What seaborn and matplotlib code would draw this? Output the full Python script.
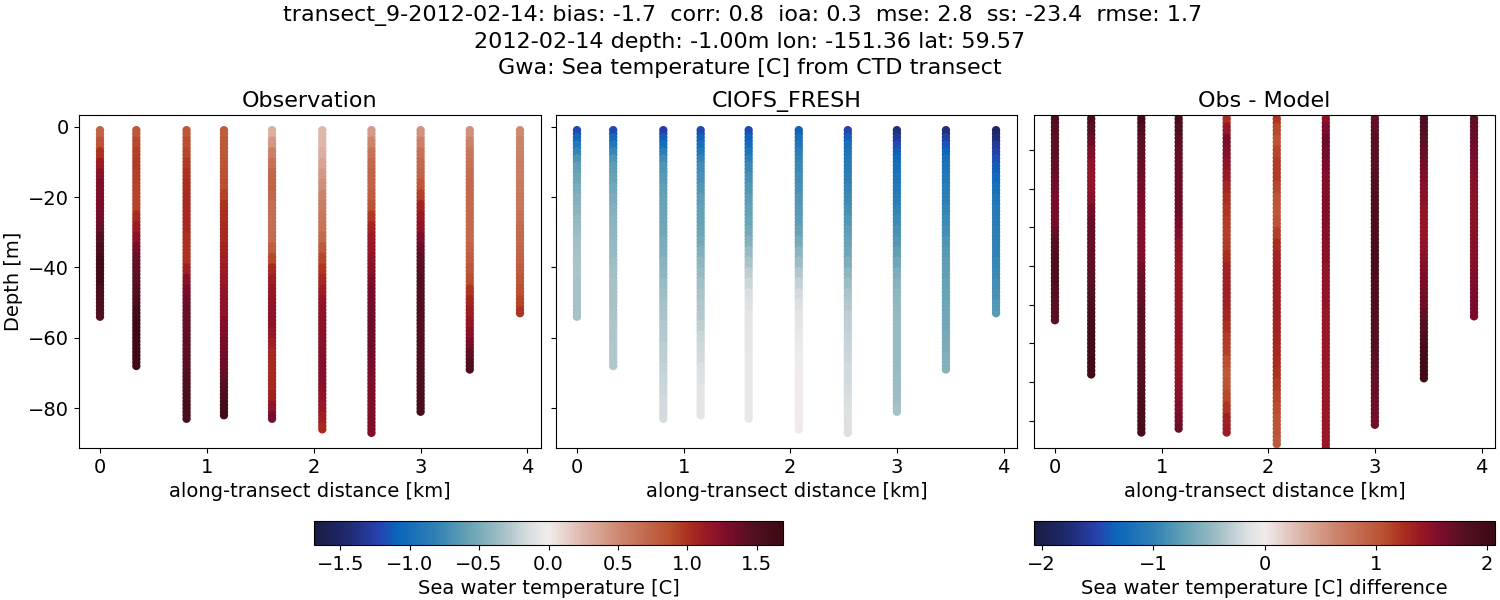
import numpy as np
import pandas as pd
import matplotlib
matplotlib.use('Agg')
import matplotlib.pyplot as plt
from matplotlib.cm import ScalarMappable
from matplotlib.colors import LinearSegmentedColormap, Normalize
import seaborn as sns

# along-transect position of each CTD cast [km] and its deepest sample [m]
distance_km = [0.0, 0.34, 0.81, 1.16, 1.61, 2.08, 2.54, 3.0, 3.46, 3.93]
bottom_m = [54, 68, 83, 82, 83, 86, 87, 81, 69, 53]

# values, one reading per 3 m layer
obs_layers = [
    [.75, .85, 1.0, 1.13, 1.22, 1.27, 1.28, 1.3, 1.32, 1.38, 1.47, 1.54, 1.6, 1.62, 1.62, 1.57, 1.53, 1.5],
    [.82, .9, .95, .96, .95, .93, .92, .93, 1.03, 1.13, 1.22, 1.31, 1.38, 1.41, 1.43, 1.48, 1.54, 1.6, 1.64, 1.66, 1.65, 1.64, 1.62],
    [.83, .88, .92, .97, 1.0, 1.02, 1.03, 1.05, 1.05, 1.04, 1.01, 1.0, 1.0, 1.1, 1.23, 1.3, 1.35, 1.38, 1.39, 1.4, 1.42, 1.43, 1.45, 1.48, 1.52, 1.57, 1.58, 1.55],
    [.79, .81, .82, .84, .86, .88, .93, 1.0, 1.01, 1.03, 1.05, 1.08, 1.1, 1.13, 1.16, 1.18, 1.19, 1.2, 1.25, 1.28, 1.3, 1.31, 1.35, 1.39, 1.46, 1.52, 1.58, 1.62],
    [.28, .42, .55, .66, .73, .75, .72, .68, .68, .68, .69, .78, .9, 1.03, 1.12, 1.15, 1.18, 1.2, 1.2, 1.16, 1.1, 1.05, 1.03, 1.03, 1.05, 1.1, 1.2, 1.32],
    [.24, .26, .3, .35, .42, .47, .53, .58, .61, .64, .7, .8, .9, .98, 1.05, 1.12, 1.18, 1.21, 1.22, 1.22, 1.23, 1.25, 1.25, 1.25, 1.23, 1.2, 1.15, 1.1, 1.05],
    [.4, .52, .64, .7, .73, .75, .78, .85, .97, 1.08, 1.13, 1.16, 1.2, 1.23, 1.27, 1.3, 1.32, 1.33, 1.35, 1.35, 1.35, 1.34, 1.31, 1.28, 1.27, 1.27, 1.27, 1.27, 1.27],
    [.46, .56, .65, .7, .75, .83, .95, 1.07, 1.14, 1.2, 1.28, 1.38, 1.43, 1.46, 1.48, 1.48, 1.48, 1.48, 1.47, 1.47, 1.48, 1.48, 1.5, 1.5, 1.52, 1.54, 1.56],
    [.47, .55, .62, .66, .68, .7, .7, .7, .7, .7, .71, .74, .78, .82, .88, .98, 1.06, 1.12, 1.17, 1.22, 1.3, 1.42, 1.52],
    [.5, .53, .55, .57, .58, .6, .61, .63, .66, .69, .7, .73, .76, .79, .82, .86, .92, .98],
]

# model changes fast near the surface, so five 2 m layers first and then 3 m layers
model_layers = [
    [-1.2, -1.05, -.9, -.78, -.68, -.6, -.55, -.5, -.46, -.43, -.39, -.36, -.34, -.32, -.31, -.31, -.32, -.33, -.33, -.33],
    [-1.2, -1.05, -.92, -.78, -.68, -.62, -.57, -.52, -.49, -.46, -.43, -.41, -.39, -.37, -.35, -.34, -.33, -.33, -.32, -.31, -.3, -.3, -.29, -.28, -.28],
    [-1.25, -1.12, -1.0, -.85, -.75, -.68, -.64, -.6, -.58, -.56, -.55, -.53, -.5, -.48, -.44, -.41, -.38, -.35, -.33, -.31, -.29, -.27, -.25, -.24, -.22, -.21, -.19, -.17, -.16, -.15],
    [-1.2, -1.1, -1.0, -.9, -.8, -.73, -.7, -.66, -.62, -.59, -.57, -.56, -.52, -.47, -.41, -.37, -.34, -.31, -.29, -.27, -.24, -.21, -.18, -.16, -.13, -.11, -.09, -.08, -.07],
    [-1.2, -1.1, -1.02, -.95, -.85, -.76, -.71, -.66, -.62, -.59, -.56, -.52, -.45, -.38, -.31, -.24, -.19, -.14, -.11, -.09, -.07, -.06, -.06, -.05, -.05, -.05, -.05, -.05, -.04, -.04],
    [-1.1, -1.0, -.92, -.85, -.8, -.76, -.73, -.7, -.67, -.64, -.61, -.57, -.51, -.43, -.36, -.28, -.22, -.16, -.12, -.09, -.07, -.05, -.03, -.01, -.01, 0, 0, 0, 0, 0, 0],
    [-1.22, -1.1, -1.0, -.95, -.9, -.86, -.82, -.78, -.74, -.7, -.66, -.62, -.58, -.54, -.48, -.42, -.35, -.31, -.28, -.25, -.23, -.22, -.21, -.19, -.17, -.16, -.15, -.14, -.13, -.12, -.12],
    [-1.4, -1.3, -1.2, -1.12, -1.05, -1.0, -.95, -.9, -.85, -.8, -.75, -.71, -.66, -.6, -.54, -.48, -.44, -.42, -.4, -.39, -.38, -.38, -.38, -.37, -.37, -.36, -.36, -.35, -.33],
    [-1.4, -1.28, -1.15, -1.08, -1.0, -.94, -.9, -.85, -.82, -.79, -.75, -.72, -.68, -.64, -.62, -.6, -.58, -.57, -.55, -.54, -.53, -.51, -.49, -.47, -.46],
    [-1.5, -1.42, -1.32, -1.25, -1.18, -1.12, -1.05, -.98, -.93, -.89, -.86, -.84, -.83, -.81, -.79, -.76, -.73, -.7, -.67, -.64],
]

diff_layers = [
    [1.88, 1.8, 1.75, 1.75, 1.72, 1.66, 1.62, 1.6, 1.6, 1.62, 1.72, 1.8, 1.85, 1.86, 1.85, 1.82, 1.78, 1.75],
    [1.92, 1.78, 1.65, 1.55, 1.48, 1.45, 1.47, 1.52, 1.62, 1.67, 1.7, 1.71, 1.72, 1.74, 1.77, 1.8, 1.86, 1.92, 1.95, 1.96, 1.97, 1.98, 1.98],
    [1.97, 1.85, 1.76, 1.72, 1.69, 1.66, 1.63, 1.6, 1.57, 1.55, 1.55, 1.55, 1.55, 1.62, 1.66, 1.69, 1.72, 1.75, 1.75, 1.75, 1.76, 1.78, 1.8, 1.83, 1.86, 1.9, 1.92, 1.93],
    [1.92, 1.82, 1.75, 1.71, 1.68, 1.65, 1.65, 1.65, 1.65, 1.6, 1.54, 1.47, 1.44, 1.42, 1.42, 1.42, 1.42, 1.43, 1.45, 1.44, 1.42, 1.43, 1.45, 1.48, 1.52, 1.56, 1.61, 1.67],
    [1.25, 1.42, 1.6, 1.55, 1.48, 1.4, 1.3, 1.24, 1.2, 1.17, 1.15, 1.18, 1.25, 1.31, 1.34, 1.35, 1.34, 1.3, 1.24, 1.18, 1.15, 1.08, 1.0, 1.02, 1.1, 1.2, 1.33, 1.38],
    [1.2, 1.1, 1.05, 1.12, 1.18, 1.18, 1.1, 1.03, 1.0, 1.05, 1.15, 1.25, 1.32, 1.35, 1.35, 1.35, 1.35, 1.34, 1.31, 1.3, 1.29, 1.25, 1.22, 1.17, 1.12, 1.08, 1.05, 1.02, 1.0],
    [1.5, 1.58, 1.65, 1.62, 1.58, 1.55, 1.55, 1.55, 1.55, 1.55, 1.53, 1.5, 1.49, 1.47, 1.45, 1.45, 1.44, 1.42, 1.42, 1.42, 1.42, 1.41, 1.4, 1.4, 1.4, 1.41, 1.42, 1.42, 1.42],
    [1.7, 1.73, 1.75, 1.75, 1.77, 1.8, 1.8, 1.82, 1.85, 1.85, 1.87, 1.9, 1.9, 1.9, 1.87, 1.85, 1.85, 1.83, 1.8, 1.8, 1.78, 1.75, 1.72, 1.7, 1.67, 1.64, 1.62],
    [1.87, 1.82, 1.75, 1.69, 1.63, 1.56, 1.52, 1.49, 1.45, 1.43, 1.42, 1.44, 1.49, 1.55, 1.58, 1.61, 1.64, 1.72, 1.82, 1.88, 1.93, 1.98, 2.0],
    [1.77, 1.7, 1.65, 1.62, 1.58, 1.55, 1.52, 1.5, 1.5, 1.5, 1.5, 1.52, 1.53, 1.55, 1.56, 1.58, 1.6, 1.6],
]

title_lines = [
    'transect_9-2012-02-14: bias: -1.7  corr: 0.8  ioa: 0.3  mse: 2.8  ss: -23.4  rmse: 1.7  ',
    '2012-02-14 depth: -1.00m lon: -151.36 lat: 59.57',
    'Gwa: Sea temperature [C] from CTD transect',
]
panel_titles = ['Observation', 'CIOFS_FRESH', 'Obs - Model']
temp_limit = 1.69
diff_limit = 2.07
temp_ticks = [-1.5, -1.0, -0.5, 0.0, 0.5, 1.0, 1.5]
diff_ticks = [-2, -1, 0, 1, 2]
diff_depth_ticks = [-10, -20, -30, -40, -50, -60, -70, -80]

# no cmocean here, so the balance map is rebuilt from colours seen on the colorbars
balance = LinearSegmentedColormap.from_list('balance', [
    (0.0, '#181c43'), (0.07, '#1f2a6e'), (0.135, '#2741ae'), (0.178, '#0b66bc'),
    (0.257, '#2f80b5'), (0.33, '#67a3b5'), (0.40, '#a2bfc6'), (0.46, '#dadfe1'),
    (0.50, '#f1ecec'), (0.58, '#dcb3a6'), (0.66, '#cc826a'), (0.76, '#b95030'),
    (0.80, '#ab2f1e'), (0.84, '#991826'), (0.883, '#7c0d2a'), (0.934, '#541022'),
    (1.0, '#3c0912'),
], N=256)


def build_table(layers, thin_top=False):
    rows = []
    for x, bottom, vals in zip(distance_km, bottom_m, layers):
        thick = [3] * len(vals)
        if thin_top:
            thick[:5] = [2] * 5
        samples = np.repeat(vals, thick)[:bottom]
        rows.append(pd.DataFrame({
            'distance': x,
            'depth': -np.arange(1, bottom + 1),
            'value': samples,
        }))
    return pd.concat(rows, ignore_index=True)


def px_axes(fig, left, top, right, bottom):
    return fig.add_axes([left / 1500, 1 - bottom / 600, (right - left) / 1500, (bottom - top) / 600])


plt.rcParams['font.family'] = 'DejaVu Sans'
plt.rcParams['font.size'] = 14

fig = plt.figure(figsize=(15, 6), dpi=100)
ax_obs = px_axes(fig, 79, 115, 541, 448)
ax_model = px_axes(fig, 556, 115, 1017, 448)
ax_diff = px_axes(fig, 1034, 115, 1495, 448)

tables = [build_table(obs_layers), build_table(model_layers, thin_top=True), build_table(diff_layers)]
limits = [temp_limit, temp_limit, diff_limit]

for ax, table, limit, name in zip([ax_obs, ax_model, ax_diff], tables, limits, panel_titles):
    sns.scatterplot(data=table, x='distance', y='depth', hue='value', palette=balance,
                    hue_norm=(-limit, limit), s=36, linewidth=0, legend=False, ax=ax)
    ax.set_title(name, fontsize=16, pad=6)
    ax.set_xlabel('along-transect distance [km]', fontsize=14)
    ax.set_ylabel('')
    ax.set_xlim(-0.1965, 4.1265)
    ax.set_xticks([0, 1, 2, 3, 4])
    ax.tick_params(labelsize=14)

ax_obs.set_ylim(-91.3, 3.3)
ax_obs.set_ylabel('Depth [m]', fontsize=14)
ax_model.set_ylim(-91.3, 3.3)
ax_model.set_yticks([0, -20, -40, -60, -80])
ax_model.set_yticklabels([])
ax_diff.set_ylim(-87, -1)
ax_diff.set_yticks(diff_depth_ticks)
ax_diff.set_yticklabels([])

cax_temp = px_axes(fig, 314, 521, 783, 545)
cbar = fig.colorbar(ScalarMappable(Normalize(-temp_limit, temp_limit), balance), cax=cax_temp, orientation='horizontal')
cbar.set_ticks(temp_ticks)
cbar.set_label('Sea water temperature [C]', fontsize=14)

cax_diff = px_axes(fig, 1034, 521, 1495, 545)
cbar = fig.colorbar(ScalarMappable(Normalize(-diff_limit, diff_limit), balance), cax=cax_diff, orientation='horizontal')
cbar.set_ticks(diff_ticks)
cbar.set_label('Sea water temperature [C] difference', fontsize=14)

for y, line in zip([16, 42, 68], title_lines):
    fig.text(0.5, 1 - y / 600, line, ha='center', va='center', fontsize=16)

fig.savefig('out.png', dpi=100)
plt.close(fig)
